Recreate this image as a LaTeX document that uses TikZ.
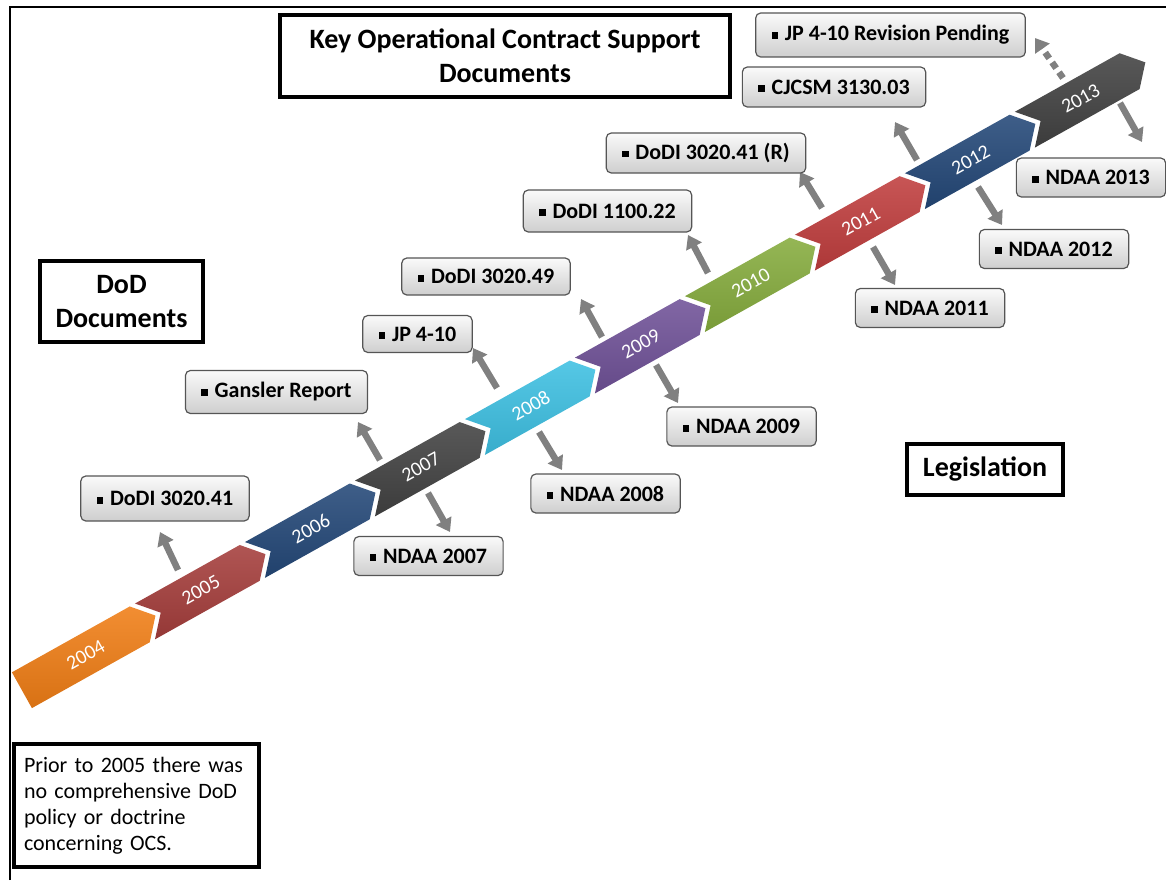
\documentclass[tikz,border=0pt]{standalone}
\usepackage{fontspec}
\setmainfont{Carlito}
\usetikzlibrary{arrows.meta}

\definecolor{c04}{RGB}{240,126,22}
\definecolor{c05}{RGB}{165,62,60}
\definecolor{c06}{RGB}{36,72,120}
\definecolor{c07}{RGB}{66,66,66}
\definecolor{c08}{RGB}{62,192,226}
\definecolor{c09}{RGB}{112,82,152}
\definecolor{c10}{RGB}{134,172,62}
\definecolor{c11}{RGB}{192,62,62}
\definecolor{c12}{RGB}{36,72,120}
\definecolor{c13}{RGB}{66,66,66}
\definecolor{arrgray}{RGB}{128,128,128}
\definecolor{boxline}{RGB}{85,85,85}

\newcommand{\sqb}{\raisebox{0.2ex}{\rule{0.3em}{0.3em}}\hspace{0.3em}}

\begin{document}
\begin{tikzpicture}[x=1pt,y=-1pt,
	doc/.style={draw=boxline,line width=1.2pt,rounded corners=5pt,top color=gray!4,bottom color=gray!38,
		font=\fontsize{22}{26}\bfseries\selectfont,inner xsep=16pt,inner ysep=0pt,minimum height=39},
	heading/.style={draw=black,line width=3.5pt,align=center,font=\fontsize{28}{34}\bfseries\selectfont},
	year/.style={text=white,font=\fontsize{20}{24}\selectfont,rotate=29.2,inner sep=0pt},
	docarr/.style={draw=arrgray,line width=6.5pt,-{Triangle[length=13pt,width=17pt]}},
	]
	\useasboundingbox (0,0) rectangle (1166,880);

	% Frame
	\draw[line width=2.5pt] (10,880) -- (10,7) -- (1166,7);

	% Chevrons
	\begin{scope}[shift={(25,665)},rotate=29.2]
		\shade[top color=c04!88!white,bottom color=c04!90!black] (-15,0) -- (120,0) -- (138,20.5) -- (120,41) -- (-15,41) -- cycle;
		\node[year] (y2004) at (58,20.5) {2004};
		\foreach \yr/\col [count=\i] in {2005/c05,2006/c06,2007/c07,2008/c08,2009/c09,2010/c10,2011/c11,2012/c12,2013/c13}{
			\shade[top color=\col!88!white,bottom color=\col!90!black] (\i*126,0) -- ++(120,0) -- ++(18,20.5) -- ++(-18,20.5) -- ++(-120,0) -- ++(18,-20.5) -- cycle;
			\node[year] (y\yr) at (\i*126+64,20.5) {\yr};
		}
	\end{scope}

	% Arrow ends
	\coordinate (s05) at (178,570);  \coordinate (t05) at (160,532);
	\coordinate (s07u) at (380,460); \coordinate (t07u) at (358,422);
	\coordinate (s08u) at (497,388); \coordinate (t08u) at (473,348);
	\coordinate (s09u) at (602,337); \coordinate (t09u) at (581,299);
	\coordinate (s10) at (708,273);  \coordinate (t10) at (688,235);
	\coordinate (s11u) at (822,208); \coordinate (t11u) at (800,172);
	\coordinate (s12u) at (917,160); \coordinate (t12u) at (895,122);
	\coordinate (s13u) at (1063,78); \coordinate (t13u) at (1035,38);
	\coordinate (s07d) at (428,493); \coordinate (t07d) at (450,532);
	\coordinate (s08d) at (539,432); \coordinate (t08d) at (562,470);
	\coordinate (s09d) at (656,365); \coordinate (t09d) at (678,403);
	\coordinate (s11d) at (873,247); \coordinate (t11d) at (895,285);
	\coordinate (s12d) at (978,187); \coordinate (t12d) at (1002,225);
	\coordinate (s13d) at (1120,103); \coordinate (t13d) at (1142,142);

	% Arrows
	\foreach \a in {05,07u,08u,09u,10,11u,12u,07d,08d,09d,11d,12d,13d}
		\draw[docarr] (s\a) -- (t\a);
	\draw[docarr,dash pattern=on 7pt off 5pt] (s13u) -- (t13u);

	% DoD documents
	\node[doc,minimum height=45] (bDoDIa) at (165,498.5) {\sqb DoDI 3020.41};
	\node[doc,minimum height=43] (bGansler) at (276.5,392) {\sqb Gansler Report};
	\node[doc,minimum height=37] (bJP) at (417.5,334) {\sqb JP 4-10};
	\node[doc,minimum height=37] (bDoDIb) at (486,276.5) {\sqb DoDI 3020.49};
	\node[doc,minimum height=42] (bDoDIc) at (607.5,211) {\sqb DoDI 1100.22};
	\node[doc,minimum height=40] (bDoDIr) at (706,153) {\sqb DoDI 3020.41 (R)};
	\node[doc,minimum height=40] (bCJCSM) at (834,87) {\sqb CJCSM 3130.03};
	\node[doc,minimum height=44] (bJPrev) at (890.5,35) {\sqb JP 4-10 Revision Pending};

	% Legislation
	\node[doc] (bNDAA07) at (428.5,556) {\sqb NDAA 2007};
	\node[doc] (bNDAA08) at (605.5,493.5) {\sqb NDAA 2008};
	\node[doc] (bNDAA09) at (741.5,426.5) {\sqb NDAA 2009};
	\node[doc] (bNDAA11) at (930,308) {\sqb NDAA 2011};
	\node[doc] (bNDAA12) at (1054,249) {\sqb NDAA 2012};
	\node[doc] (bNDAA13) at (1091,177.5) {\sqb NDAA 2013};

	% Headings
	\node[heading,minimum width=450,minimum height=82] (tKey) at (505,56) {Key Operational Contract Support\\Documents};
	\node[heading,minimum width=163,minimum height=81] (tDoD) at (121.5,301.5) {DoD\\Documents};
	\node[heading,minimum width=156,minimum height=51] (tLeg) at (985,469.5) {Legislation};

	% Note
	\node[draw=black,line width=3.5pt,align=left,text width=225pt,inner xsep=10pt,minimum height=123,
		font=\fontsize{22}{26}\selectfont] (note) at (136.5,805.5)
		{Prior to 2005 there was\\no comprehensive DoD\\policy or doctrine\\concerning OCS.};
\end{tikzpicture}
\end{document}
